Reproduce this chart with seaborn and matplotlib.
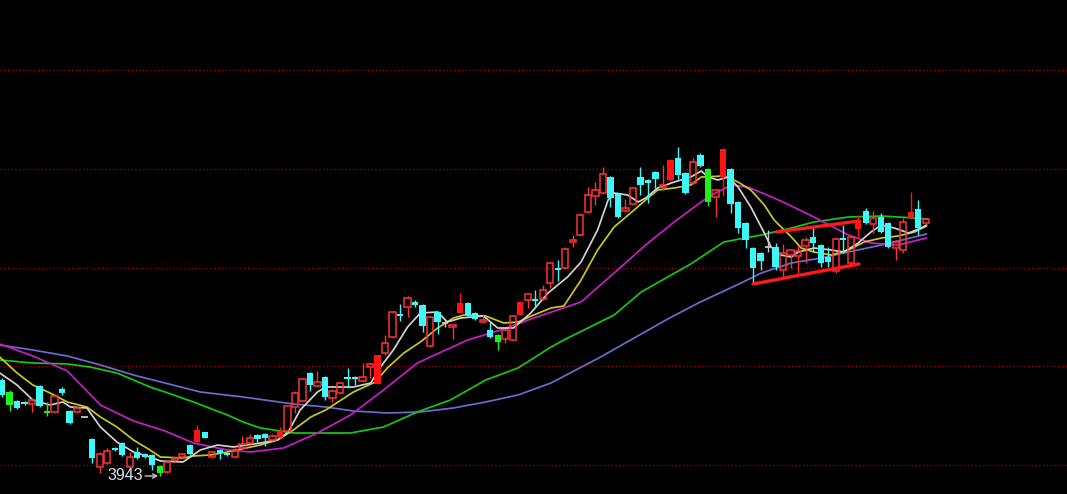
import matplotlib
matplotlib.use("Agg")
import matplotlib.pyplot as plt
import numpy as np
import pandas as pd
import seaborn as sns

# daily candles, one per session (index points)
open_ = [4039, 4027, 4018, 4017, 4015, 4033, 4008, 4007, 4030, 4008,
         4007, 4002, 3980, 3952, 3956, 3971, 3976, 3952, 3967, 3965,
         3964, 3953, 3947, 3959, 3962, 3974, 3977, 3987, 3962, 3969,
         3966, 3962, 3971, 3976, 3984, 3985, 3979, 3982, 3988, 4012,
         4018, 4046, 4033, 4042, 4021, 4026, 4041, 4042, 4038, 4052,
         4035, 4066, 4082, 4105, 4112, 4117, 4114, 4073, 4107, 4096,
         4092, 4106, 4116, 4106, 4097, 4089, 4084, 4080, 4079, 4104,
         4119, 4120, 4120, 4136, 4151, 4151, 4177, 4184, 4207, 4223,
         4226, 4242, 4225, 4208, 4215, 4242, 4239, 4247, 4232, 4239,
         4261, 4246, 4236, 4264, 4250, 4222, 4242, 4250, 4217, 4196,
         4171, 4166, 4172, 4172, 4149, 4164, 4163, 4173, 4182, 4174,
         4162, 4148, 4181, 4156, 4190, 4208, 4195, 4202, 4196, 4171,
         4169, 4201, 4210, 4196]
high = [4041, 4029, 4019, 4018, 4020, 4034, 4017, 4025, 4032, 4009,
        4012, 4002, 3981, 3967, 3971, 3972, 3977, 3967, 3972, 3966,
        3965, 3954, 3958, 3962, 3966, 3975, 3994, 3987, 3968, 3970,
        3967, 3972, 3983, 3985, 3985, 3986, 3985, 3992, 4014, 4028,
        4041, 4047, 4048, 4043, 4030, 4037, 4051, 4043, 4056, 4056,
        4064, 4084, 4108, 4115, 4123, 4119, 4115, 4103, 4108, 4099,
        4095, 4126, 4117, 4107, 4104, 4097, 4085, 4090, 4104, 4118,
        4126, 4129, 4134, 4157, 4159, 4172, 4184, 4206, 4232, 4237,
        4252, 4243, 4226, 4220, 4232, 4252, 4240, 4248, 4254, 4260,
        4272, 4247, 4261, 4266, 4251, 4230, 4270, 4251, 4218, 4197,
        4172, 4167, 4189, 4176, 4175, 4170, 4174, 4182, 4193, 4175,
        4172, 4182, 4194, 4184, 4204, 4211, 4208, 4206, 4197, 4179,
        4201, 4227, 4219, 4201]
low = [4022, 4008, 4010, 4014, 4007, 4012, 4003, 4006, 4024, 3995,
       4006, 4002, 3956, 3946, 3955, 3968, 3963, 3951, 3960, 3961,
       3949, 3943, 3946, 3958, 3961, 3964, 3977, 3981, 3961, 3960,
       3963, 3961, 3970, 3975, 3977, 3973, 3978, 3981, 3987, 4006,
       4017, 4028, 4032, 4019, 4017, 4025, 4031, 4034, 4037, 4041,
       4035, 4064, 4081, 4098, 4102, 4112, 4087, 4072, 4085, 4092,
       4080, 4106, 4103, 4099, 4096, 4081, 4069, 4076, 4078, 4104,
       4111, 4111, 4119, 4131, 4138, 4150, 4172, 4183, 4206, 4214,
       4225, 4212, 4201, 4207, 4214, 4224, 4216, 4231, 4229, 4238,
       4240, 4225, 4235, 4252, 4213, 4202, 4223, 4206, 4186, 4171,
       4136, 4149, 4167, 4149, 4141, 4151, 4146, 4156, 4167, 4152,
       4152, 4146, 4166, 4152, 4181, 4195, 4186, 4186, 4171, 4159,
       4166, 4200, 4184, 4195]
close = [4024, 4014, 4011, 4015, 4019, 4013, 4006, 4023, 4026, 3996,
         4011, 4002, 3961, 3965, 3968, 3969, 3964, 3962, 3961, 3962,
         3954, 3946, 3957, 3961, 3965, 3965, 3989, 3981, 3967, 3966,
         3964, 3969, 3975, 3981, 3980, 3981, 3983, 3988, 4013, 4026,
         4040, 4034, 4037, 4022, 4028, 4036, 4040, 4040, 4042, 4055,
         4064, 4076, 4107, 4103, 4121, 4114, 4093, 4102, 4097, 4096,
         4094, 4116, 4104, 4100, 4099, 4082, 4077, 4089, 4103, 4117,
         4125, 4118, 4129, 4156, 4149, 4170, 4179, 4204, 4224, 4229,
         4245, 4221, 4202, 4211, 4231, 4234, 4236, 4240, 4234, 4259,
         4244, 4226, 4257, 4253, 4217, 4229, 4270, 4215, 4191, 4179,
         4151, 4158, 4172, 4152, 4166, 4169, 4168, 4179, 4176, 4156,
         4157, 4180, 4179, 4182, 4199, 4196, 4201, 4187, 4172, 4177,
         4197, 4207, 4191, 4200]
# u = up (hollow red), U = up (solid red), d = down (cyan), g = green, n = doji
kind = ("dgddudgudd" "unduuddudd" "dguuudUdud" "duuudduUuu" "ududuudduu"
        "Uuududdudn" "uUddudguuU" "uduuduuuuu" "udduuddduU" "ddudguUddd"
        "ddnduuuudd" "duduUduddu" "uUdu")

# moving averages, sampled along each line (x = session index)
ma5_x = [-0.3, 2.0, 4.1, 6.4, 8.1, 9.1, 11.3, 13.1, 15.3, 17.5, 19.7, 21.1, 24.1,
         26.4, 28.7, 30.8, 34.4, 36.7, 38.1, 39.7, 42.0, 43.1, 46.8, 49.1, 50.4,
         52.1, 54.0, 55.7, 58.0, 59.3, 61.1, 64.1, 66.0, 68.1, 70.4, 72.7, 75.3,
         77.1, 79.3, 80.7, 81.5, 83.3, 84.7, 85.7, 87.3, 89.5, 91.7, 93.1, 94.0,
         95.3, 96.7, 98.0, 99.7, 101.5, 102.4, 103.7, 105.1, 106.0, 108.1, 110.4,
         112.1, 114.0, 115.7, 117.1, 118.8, 120.7, 122.4, 123.1]
ma5_y = [4046, 4034, 4019, 4014, 4017, 4012, 4011, 3992, 3977, 3967, 3962, 3958, 3957,
         3969, 3974, 3972, 3976, 3979, 3987, 4009, 4027, 4032, 4032, 4036, 4052,
         4069, 4092, 4106, 4107, 4097, 4101, 4103, 4091, 4091, 4106, 4126, 4142,
         4157, 4189, 4219, 4226, 4224, 4217, 4221, 4231, 4237, 4242, 4248, 4242,
         4239, 4242, 4232, 4212, 4186, 4172, 4164, 4162, 4167, 4171, 4169,
         4167, 4176, 4187, 4194, 4191, 4186, 4191, 4194]
ma10_x = [-0.3, 2.0, 4.1, 6.4, 8.7, 11.3, 13.1, 15.3, 17.5, 19.7, 21.1, 24.1, 25.5,
          27.7, 30.0, 34.4, 36.7, 38.8, 41.1, 43.1, 46.8, 49.7, 51.3, 53.5, 55.7,
          58.0, 60.1, 61.5, 64.4, 66.8, 68.7, 70.8, 73.1, 74.8, 77.1, 79.3, 81.5,
          83.7, 85.7, 87.3, 89.5, 91.7, 93.1, 96.1, 98.0, 99.7, 101.5, 102.8, 105.1,
          106.4, 108.1, 110.4, 112.7, 114.8, 117.1, 119.3, 121.5, 123.1]
ma10_y = [4062, 4046, 4034, 4026, 4017, 4012, 4002, 3992, 3979, 3969, 3962, 3961, 3963,
          3964, 3967, 3974, 3979, 3989, 4002, 4009, 4027, 4037, 4051, 4066, 4077,
          4091, 4101, 4104, 4103, 4096, 4097, 4104, 4111, 4113, 4139, 4169, 4192,
          4206, 4219, 4229, 4231, 4234, 4242, 4243, 4237, 4229, 4214, 4199, 4182,
          4171, 4167, 4164, 4169, 4177, 4181, 4183, 4187, 4193]
ma20_x = [-0.3, 4.1, 8.7, 13.1, 17.5, 21.7, 25.5, 30.0, 33.1, 37.5, 42.0, 46.4, 50.8,
          55.3, 62.0, 66.4, 70.8, 77.1, 81.5, 85.7, 89.5, 94.0, 97.1, 99.3, 102.8,
          105.1, 108.1, 112.7, 115.7, 119.3, 123.1]
ma20_y = [4075, 4063, 4048, 4014, 3998, 3988, 3976, 3969, 3967, 3971, 3986, 4004, 4029,
          4056, 4079, 4089, 4101, 4117, 4146, 4174, 4197, 4222, 4234, 4232, 4221,
          4213, 4202, 4184, 4176, 4174, 4181]
ma30_x = [-0.3, 4.1, 8.7, 11.7, 15.3, 19.7, 21.7, 25.5, 30.0, 32.1, 34.4, 38.8, 43.1,
          46.4, 50.8, 55.3, 59.7, 64.4, 68.7, 73.1, 74.8, 81.5, 85.1, 91.7, 96.1,
          101.1, 105.1, 108.1, 112.7, 117.1, 121.5, 123.3]
ma30_y = [4059, 4056, 4055, 4052, 4046, 4032, 4027, 4017, 4004, 3997, 3991, 3986, 3986,
          3986, 3992, 4007, 4019, 4039, 4051, 4072, 4079, 4104, 4127, 4155, 4177,
          4184, 4191, 4197, 4202, 4203, 4201, 4200]
ma60_x = [-0.3, 4.1, 8.7, 13.1, 17.5, 21.7, 26.4, 32.1, 38.8, 43.1, 46.8, 51.3, 55.7,
          60.1, 64.4, 68.7, 73.1, 79.7, 83.7, 88.4, 92.7, 98.4, 101.1, 105.1, 109.1,
          112.7, 117.1, 123.1]
ma60_y = [4074, 4069, 4063, 4054, 4044, 4036, 4027, 4022, 4015, 4012, 4008, 4006, 4007,
          4011, 4017, 4024, 4036, 4062, 4079, 4099, 4116, 4136, 4146, 4156, 4161,
          4167, 4174, 4185]

grid_levels = [4349, 4250, 4151, 4053, 3954]
# hand-drawn channel on the right
chan_low_x = [100, 114.1]
chan_low_y = [4135, 4155]
chan_up_x = [103.1, 114.1]
chan_up_y = [4187, 4198]
low_mark = 3943
low_idx = 21

sns.set_style("dark", {"axes.facecolor": "black", "figure.facecolor": "black"})
plt.rcParams['font.family'] = ['Liberation Sans', 'DejaVu Sans']

fig = plt.figure(figsize=(10.67, 4.94), dpi=100)
ax = fig.add_axes([0, 0, 1, 1])
ax.set_facecolor('black')

for lvl in grid_levels:
    ax.axhline(lvl, color='#a00000', lw=0.9, ls=(0, (1, 2)), zorder=1)

ma_lines = [(ma60_x, ma60_y, '#6c6cd0'),
            (ma30_x, ma30_y, '#14c814'),
            (ma20_x, ma20_y, '#c81ec8'),
            (ma10_x, ma10_y, '#c8c81e'),
            (ma5_x, ma5_y, '#d2d2d2')]
for xs, ys, col in ma_lines:
    sns.lineplot(x=xs, y=ys, ax=ax, color=col, linewidth=1.25,
                 estimator=None, sort=False, zorder=2)

df = pd.DataFrame({'open': open_, 'high': high, 'low': low,
                   'close': close, 'kind': list(kind)})
df['x'] = np.arange(len(df))
df['top'] = df[['open', 'close']].max(axis=1)
df['bot'] = df[['open', 'close']].min(axis=1)

colors = {'u': '#ff3232', 'U': '#ff1414', 'd': '#3cf8f8',
          'g': '#1ef01e', 'n': '#c8c8c8'}
w = 0.84
for k, g in df.groupby('kind'):
    col = colors[k]
    if k == 'u':
        ax.vlines(g.x, g.top, g.high, color=col, lw=1, zorder=3)
        ax.vlines(g.x, g.low, g.bot, color=col, lw=1, zorder=3)
        ax.bar(g.x, g.top - g.bot, bottom=g.bot, width=w, facecolor='none',
               edgecolor=col, linewidth=1.1, zorder=3)
    elif k == 'n':
        ax.vlines(g.x, g.low, g.high, color=col, lw=1, zorder=3)
        ax.hlines(g.close, g.x - w / 2, g.x + w / 2, color=col, lw=1.3, zorder=3)
    else:
        ax.vlines(g.x, g.low, g.high, color=col, lw=1, zorder=3)
        ax.bar(g.x, np.maximum(g.top - g.bot, 1.5), bottom=g.bot, width=w,
               color=col, linewidth=0, zorder=3)

ax.plot(chan_low_x, chan_low_y, color='#ff1a1a', lw=2.4, zorder=4)
ax.plot(chan_up_x, chan_up_y, color='#ff1a1a', lw=2.4, zorder=4)

# lowest-low marker with a small arrow
ax.text(18.8, low_mark, str(low_mark), ha='right', va='center',
        color='#dce4f0', fontsize=11.5, zorder=5)
ax.annotate('', xy=(low_idx - 0.2, low_mark), xytext=(19.05, low_mark),
            arrowprops=dict(arrowstyle='->,head_length=0.3,head_width=0.15',
                            color='#c8c8c8', lw=1, shrinkA=0, shrinkB=0),
            zorder=5)

ax.set_xlim(-0.27, 141.8)
ax.set_ylim(3925, 4419)
ax.axis('off')

fig.savefig('out.png', dpi=100, facecolor='black')
